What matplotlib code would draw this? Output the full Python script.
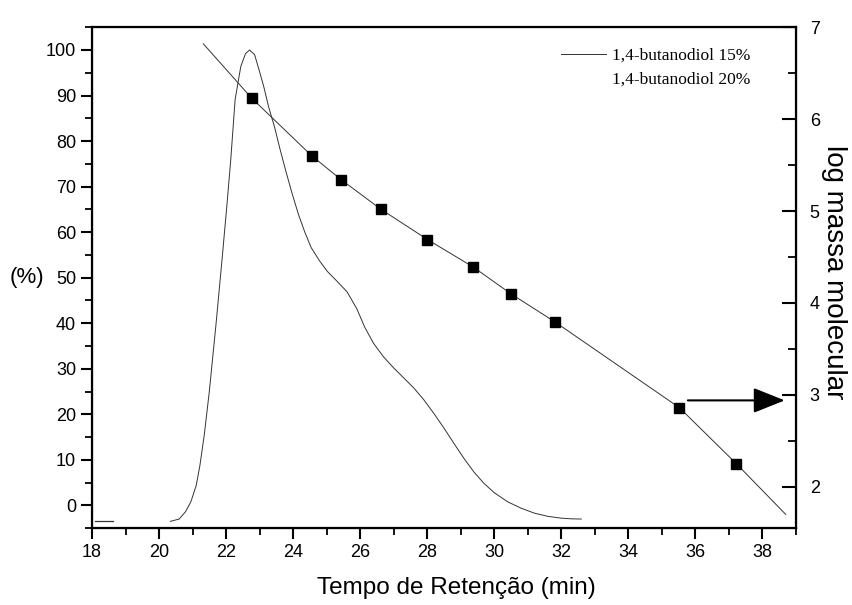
import matplotlib.pyplot as plt
import matplotlib as mpl
from matplotlib.lines import Line2D
from matplotlib.ticker import MultipleLocator

mpl.rcParams.update({
    "font.family": "sans-serif",
    "font.sans-serif": ["Liberation Sans", "DejaVu Sans"],
    "font.size": 13,
})

# chromatogram, 1,4-butanodiol 15% (left axis, %)
tempo_15 = [20.34, 20.6, 20.79, 20.95, 21.11, 21.22, 21.35, 21.5, 21.70, 21.88,
            22.02, 22.14, 22.27, 22.44, 22.58, 22.70, 22.85, 22.99, 23.13,
            23.27, 23.45, 23.6, 23.78, 23.97, 24.16, 24.35, 24.54, 24.78,
            25.02, 25.3, 25.61, 25.90, 26.14, 26.4, 26.7, 27.0, 27.3, 27.6,
            27.9, 28.2, 28.5, 28.8, 29.1, 29.4, 29.7, 30.0, 30.4, 30.8, 31.2,
            31.6, 32.0, 32.3, 32.6]
sinal_15 = [-3.5, -3.0, -1.4, 0.8, 4.4, 8.8, 15.5, 25.0, 39.8, 54.0,
            65.5, 75.9, 89.1, 96.4, 99.2, 100.0, 99.0, 95.5, 91.8,
            87.5, 83.0, 78.5, 73.5, 68.5, 63.9, 60.0, 56.6, 53.8,
            51.4, 49.3, 46.9, 43.2, 39.1, 35.6, 32.6, 30.2, 28.0, 25.8,
            23.2, 20.2, 17.0, 13.6, 10.3, 7.3, 4.8, 2.8, 0.8, -0.6, -1.7,
            -2.4, -2.8, -2.95, -3.0]

# short trace of the 20% run near the start of the axis
tempo_20 = [18.09, 18.63]
sinal_20 = [-3.5, -3.5]

# calibration standards (right axis, log M)
tempo_padroes = [22.76, 24.56, 25.44, 26.62, 28.01, 29.38, 30.50, 31.83, 35.53, 37.23]
logm_padroes = [6.23, 5.60, 5.34, 5.02, 4.69, 4.39, 4.10, 3.79, 2.86, 2.25]

# calibration curve drawn through the standards
tempo_curva = [21.32] + tempo_padroes + [38.70]
logm_curva = [6.82] + logm_padroes + [1.70]

fig = plt.figure(figsize=(8.52, 6.05), dpi=100)
ax = fig.add_axes([0.108, 0.127, 0.826, 0.828])

ax.plot(tempo_15, sinal_15, color="#333333", lw=0.7)
ax.plot(tempo_20, sinal_20, color="#333333", lw=0.9)

ax.set_xlim(18, 39)
ax.set_ylim(-5, 105)
ax.xaxis.set_major_locator(MultipleLocator(2))
ax.xaxis.set_minor_locator(MultipleLocator(1))
ax.yaxis.set_major_locator(MultipleLocator(10))
ax.yaxis.set_minor_locator(MultipleLocator(5))
ax.tick_params(which="major", direction="out", length=8, width=1.5, labelsize=13)
ax.tick_params(which="minor", direction="out", length=5, width=1.3)
ax.tick_params(top=False, which="both")
for s in ax.spines.values():
    s.set_linewidth(1.6)

ax.set_xlabel("Tempo de Retenção (min)", fontsize=17.5)
ax.xaxis.set_label_coords(0.518, -0.098)
ax.set_ylabel("(%)", rotation=0, fontsize=16, ha="center", va="center")
ax.yaxis.set_label_coords(-0.092, 0.5)

ax2 = ax.twinx()
ax2.plot(tempo_curva, logm_curva, color="#333333", lw=0.7)
ax2.plot(tempo_padroes, logm_padroes, ls="none", marker="s", ms=7,
         color="black")
ax2.set_ylim(1.55, 7)
ax2.yaxis.set_major_locator(MultipleLocator(1))
ax2.yaxis.set_minor_locator(MultipleLocator(0.5))
ax2.tick_params(which="major", direction="in", length=10, width=1.5, labelsize=13, pad=10)
ax2.tick_params(which="minor", direction="in", length=6, width=1.3)
ax2.set_ylabel("log massa molecular", rotation=-90, fontsize=20, va="center")
ax2.yaxis.set_label_coords(1.054, 0.511)

# arrow pointing the standards to the right-hand axis
ax2.annotate("", xy=(38.67, 2.94), xytext=(35.78, 2.94),
             arrowprops=dict(arrowstyle="-|>,head_length=1.5,head_width=0.6",
                             color="black", lw=1.5, shrinkA=0, shrinkB=0))

handles = [Line2D([], [], color="#333333", lw=0.7),
           Line2D([], [], color="none", lw=0.7)]
ax.legend(handles, ["1,4-butanodiol 15%", "1,4-butanodiol 20%"],
          loc="upper right", bbox_to_anchor=(0.957, 0.99), frameon=False,
          prop={"family": "Liberation Serif", "size": 12.5},
          handlelength=2.6, handletextpad=0.3, labelspacing=0.45)

fig.savefig("out.png", dpi=100)
